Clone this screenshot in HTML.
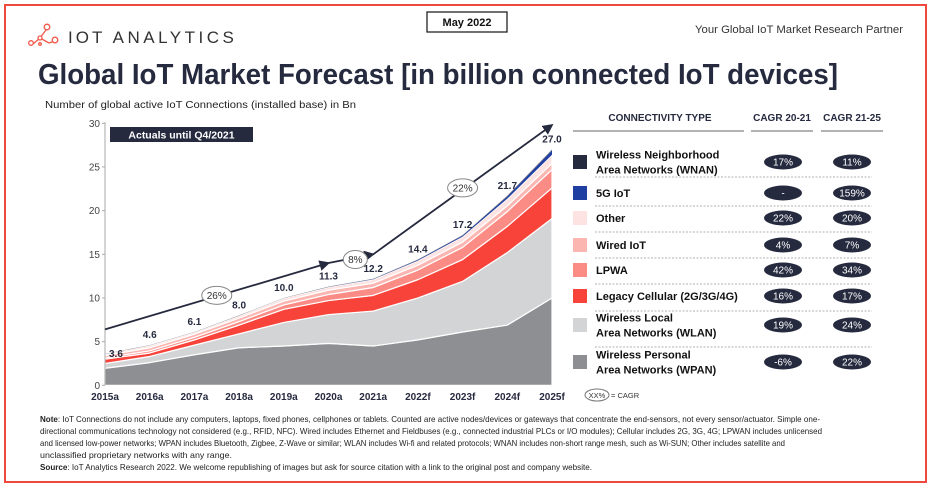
<!DOCTYPE html>
<html><head><meta charset="utf-8"><style>
html,body{margin:0;padding:0;background:#fff;}
svg{display:block;font-family:"Liberation Sans",sans-serif;}
</style></head><body>
<svg id="root" width="936" height="495" viewBox="0 0 936 495" xmlns="http://www.w3.org/2000/svg">
<rect x="5" y="5" width="921" height="477" fill="#fff" stroke="#f0483c" stroke-width="2"/>
<g fill="none" stroke="#f05a4a" stroke-width="1.3">
<line x1="33" y1="44" x2="40" y2="38"/><line x1="40" y1="38" x2="46" y2="30"/><line x1="40" y1="38" x2="49" y2="43"/><line x1="49" y1="43" x2="55" y2="41"/>
<circle cx="31" cy="43" r="2.3" fill="#fff"/><circle cx="40" cy="38" r="2" fill="#fff"/><circle cx="47" cy="27" r="2.8" fill="#fff"/><circle cx="40" cy="44" r="1.3" fill="#fff"/><circle cx="55" cy="40" r="2.8" fill="#fff"/>
</g>
<text x="68" y="43" font-size="17" letter-spacing="3.5" fill="#333"><tspan letter-spacing="3">IOT</tspan> ANALYTICS</text>
<rect x="427" y="12" width="80" height="20" fill="#fff" stroke="#222" stroke-width="1.3"/>
<text x="467" y="26" font-size="11" font-weight="bold" text-anchor="middle" fill="#111">May 2022</text>
<text x="903" y="33" font-size="11" text-anchor="end" fill="#333" textLength="208" lengthAdjust="spacingAndGlyphs">Your Global IoT Market Research Partner</text>
<text x="38" y="84" font-size="29" font-weight="bold" fill="#262a3f" textLength="800" lengthAdjust="spacingAndGlyphs">Global IoT Market Forecast [in billion connected IoT devices]</text>
<text x="45" y="108" font-size="10.5" fill="#222" textLength="311" lengthAdjust="spacingAndGlyphs">Number of global active IoT Connections (installed base) in Bn</text>
<g id="chart"></g>
<g id="legend"></g>
<g font-size="8.2" fill="#222">
<text x="40" y="422" textLength="780" lengthAdjust="spacingAndGlyphs"><tspan font-weight="bold">Note</tspan>: IoT Connections do not include any computers, laptops, fixed phones, cellphones or tablets. Counted are active nodes/devices or gateways that concentrate the end-sensors, not every sensor/actuator. Simple one-</text>
<text x="40" y="434" textLength="782" lengthAdjust="spacingAndGlyphs">directional communications technology not considered (e.g., RFID, NFC). Wired includes Ethernet and Fieldbuses (e.g., connected industrial PLCs or I/O modules); Cellular includes 2G, 3G, 4G;  LPWAN includes unlicensed</text>
<text x="40" y="446" textLength="745" lengthAdjust="spacingAndGlyphs">and licensed low-power networks; WPAN includes Bluetooth, Zigbee, Z-Wave or similar; WLAN includes Wi-fi and related protocols; WNAN includes non-short range mesh, such as Wi-SUN; Other includes satellite and</text>
<text x="40" y="458" textLength="192" lengthAdjust="spacingAndGlyphs">unclassified proprietary networks with any range.</text>
<text x="40" y="470" textLength="552" lengthAdjust="spacingAndGlyphs"><tspan font-weight="bold">Source</tspan>: IoT Analytics Research 2022. We welcome republishing of images but ask for source citation with a link to the original post and company website.</text>
</g>
</svg>
<script>
const categories=["2015a","2016a","2017a","2018a","2019a","2020a","2021a","2022f","2023f","2024f","2025f"];
const totals=[3.6,4.6,6.1,8.0,10.0,11.3,12.2,14.4,17.2,21.7,27.0];
const wpan=[1.95,2.6,3.5,4.3,4.5,4.8,4.5,5.2,6.1,6.9,10.0];
const wlan=[0.55,0.7,1.1,1.6,2.7,3.3,4.0,4.8,5.8,8.3,9.1];
const legacy=[0.5,0.4,0.6,1.0,1.5,1.6,1.8,2.1,2.5,3.0,3.5];
const lpwa=[0.15,0.25,0.3,0.4,0.5,0.7,0.9,1.1,1.4,1.7,2.1];
const wired=[0.25,0.35,0.35,0.4,0.45,0.5,0.5,0.55,0.6,0.65,0.7];
const other=[0.17,0.27,0.22,0.27,0.32,0.34,0.43,0.52,0.62,0.82,1.0];
const fiveG=[0,0,0,0,0,0.02,0.04,0.08,0.12,0.25,0.5];
const yTicks=[0,5,10,15,20,25,30];
const trendYears=[0,5,6,10];
const trendValues=[6.4,14.0,15.0,29.8];
const cagrLabels=["26%","8%","22%"];
const cagrAt=[2.5,5.6,8.0];
const cagrVal=[10.3,14.4,22.6];

const NS="http://www.w3.org/2000/svg";
function mk(t,a,p){const e=document.createElementNS(NS,t);for(const k in a)e.setAttribute(k,a[k]);p.appendChild(e);return e;}
const X0=105,X1=552,Y0=385.3,Y1=123.3;
const xs=i=>X0+(X1-X0)*i/(categories.length-1);
const ys=v=>Y0-(Y0-Y1)*v/30;
const chart=document.getElementById('chart');
const wnan=totals.map((t,i)=>Math.max(0,t-wpan[i]-wlan[i]-legacy[i]-lpwa[i]-wired[i]-other[i]-fiveG[i]));
const layers=[["wpan",wpan,"#8e8f93"],["wlan",wlan,"#d3d4d6"],["legacy-cellular",legacy,"#f8433a"],["lpwa",lpwa,"#fb8b85"],["wired-iot",wired,"#fcb6b1"],["other",other,"#fde4e2"],["5g-iot",fiveG,"#1f3fa3"],["wnan",wnan,"#6a6c78"]];
let base=categories.map(()=>0);
layers.forEach(([n,vals,col])=>{
  const top=base.map((b,i)=>b+vals[i]);
  let d="M"+top.map((v,i)=>xs(i)+","+ys(v)).join(" L");
  for(let i=categories.length-1;i>=0;i--)d+=" L"+xs(i)+","+ys(base[i]);
  const p=mk('path',{d:d+"Z",fill:col,stroke:"#fff","stroke-width":n.startsWith("5g")||n==="wnan"?0:1.2,"stroke-linejoin":"round"},chart);
  
  
  base=top;
});
const ax=mk('line',{x1:X0,y1:Y1-1,x2:X0,y2:Y0,stroke:"#aaa","stroke-width":1},chart);


yTicks.forEach(v=>{
  const t=mk('line',{x1:X0-3,y1:ys(v),x2:X0,y2:ys(v),stroke:"#aaa"},chart);
  
  
  const l=mk('text',{x:X0-5,y:ys(v)+3.5,"font-size":10,"text-anchor":"end",fill:"#444"},chart);
  l.textContent=v;
  
  
});
categories.forEach((c,i)=>{
  const l=mk('text',{x:xs(i),y:400,"font-size":10,"font-weight":"bold","text-anchor":"middle",fill:"#262a3f"},chart);
  l.textContent=c;
  
  
  const v=mk('text',{x:xs(i)+(i===0?4:0),y:ys(totals[i])-(i===0?-3:7),"font-size":10,"font-weight":"bold","text-anchor":i===0?"start":"middle",fill:"#262a3f"},chart);
  v.textContent=totals[i].toFixed(1);
  
  
});
const ab=mk('rect',{x:110,y:127,width:143,height:15,fill:"#262a3f"},chart);


const at=mk('text',{x:181.5,y:138.5,"font-size":10.5,"font-weight":"bold","text-anchor":"middle",fill:"#fff"},chart);
at.textContent="Actuals until Q4/2021";


mk('defs',{},chart).innerHTML='<marker id="ar" markerWidth="6" markerHeight="6" refX="5" refY="3" orient="auto"><path d="M0,0 L6,3 L0,6z" fill="#262a3f"/></marker>';
function seg(a,b,nm){const l=mk('line',{x1:xs(trendYears[a]),y1:ys(trendValues[a]),x2:xs(trendYears[b]),y2:ys(trendValues[b]),stroke:"#262a3f","stroke-width":1.8,"marker-end":"url(#ar)"},chart);

}
seg(0,1,'trend-arrow-2015-2020');seg(1,2,'trend-arrow-2020-2021');seg(2,3,'trend-arrow-2021-2025');
cagrLabels.forEach((c,i)=>{
  const e=mk('ellipse',{cx:xs(cagrAt[i]),cy:ys(cagrVal[i]),rx:c.length>2?15:12,ry:9,fill:"#fff",stroke:"#888"},chart);
  
  
  const t=mk('text',{x:xs(cagrAt[i]),y:ys(cagrVal[i])+3.5,"font-size":10,"text-anchor":"middle",fill:"#333"},chart);
  t.textContent=c;
  
  
});
const legNames=[["Wireless Neighborhood","Area Networks (WNAN)"],["5G IoT"],["Other"],["Wired IoT"],["LPWA"],["Legacy Cellular (2G/3G/4G)"],["Wireless Local","Area Networks (WLAN)"],["Wireless Personal","Area Networks (WPAN)"]];
const legColors=["#262a3f","#1f3fa3","#fde4e2","#fcb6b1","#fb8b85","#f8433a","#d3d4d6","#8e8f93"];
const cagr2021=["17%","-","22%","4%","42%","16%","19%","-6%"];
const cagr2125=["11%","159%","20%","7%","34%","17%","24%","22%"];
const rowY=[162,193,218,245,270,296,325,362];
const sepY=[177,206,232,258,284,311,347];
const lg=document.getElementById('legend');
[["CONNECTIVITY TYPE",660,573,744],["CAGR 20-21",782,751,813],["CAGR 21-25",852,821,883]].forEach(h=>{
  const t=mk('text',{x:h[1],y:121,"font-size":10,"font-weight":"bold","text-anchor":"middle",fill:"#262a3f"},lg);
  t.textContent=h[0];
  
  
  mk('line',{x1:h[2],y1:131,x2:h[3],y2:131,stroke:"#999","stroke-width":1.5},lg);
});
sepY.forEach(y=>mk('line',{x1:595,y1:y,x2:872,y2:y,stroke:"#999","stroke-dasharray":"2,1.5","stroke-width":0.8},lg));
legNames.forEach((nm,i)=>{
  const g=mk('g',{},lg);
  
  
  mk('rect',{x:573,y:rowY[i]-7,width:14,height:14,fill:legColors[i]},g);
  nm.forEach((s,k)=>{const t=mk('text',{x:596,y:rowY[i]+4+(nm.length>1?(k?7.5:-7.5):0),"font-size":11,"font-weight":"bold",fill:"#111"},g);t.textContent=s;});
  [[783,cagr2021[i]],[852,cagr2125[i]]].forEach(p=>{
    mk('ellipse',{cx:p[0],cy:rowY[i],rx:19,ry:7.5,fill:"#262a3f"},g);
    const t=mk('text',{x:p[0],y:rowY[i]+3.5,"font-size":10,"text-anchor":"middle",fill:"#fff"},g);t.textContent=p[1];
  });
});
const ke=mk('ellipse',{cx:597,cy:395,rx:12,ry:6,fill:"#fff",stroke:"#777"},lg);


const kt=mk('text',{x:597,y:398,"font-size":7.5,"text-anchor":"middle",fill:"#333"},lg);kt.textContent="XX%";
const kt2=mk('text',{x:611,y:398,"font-size":7.5,fill:"#333"},lg);kt2.textContent="= CAGR";
</script>
</body></html>
